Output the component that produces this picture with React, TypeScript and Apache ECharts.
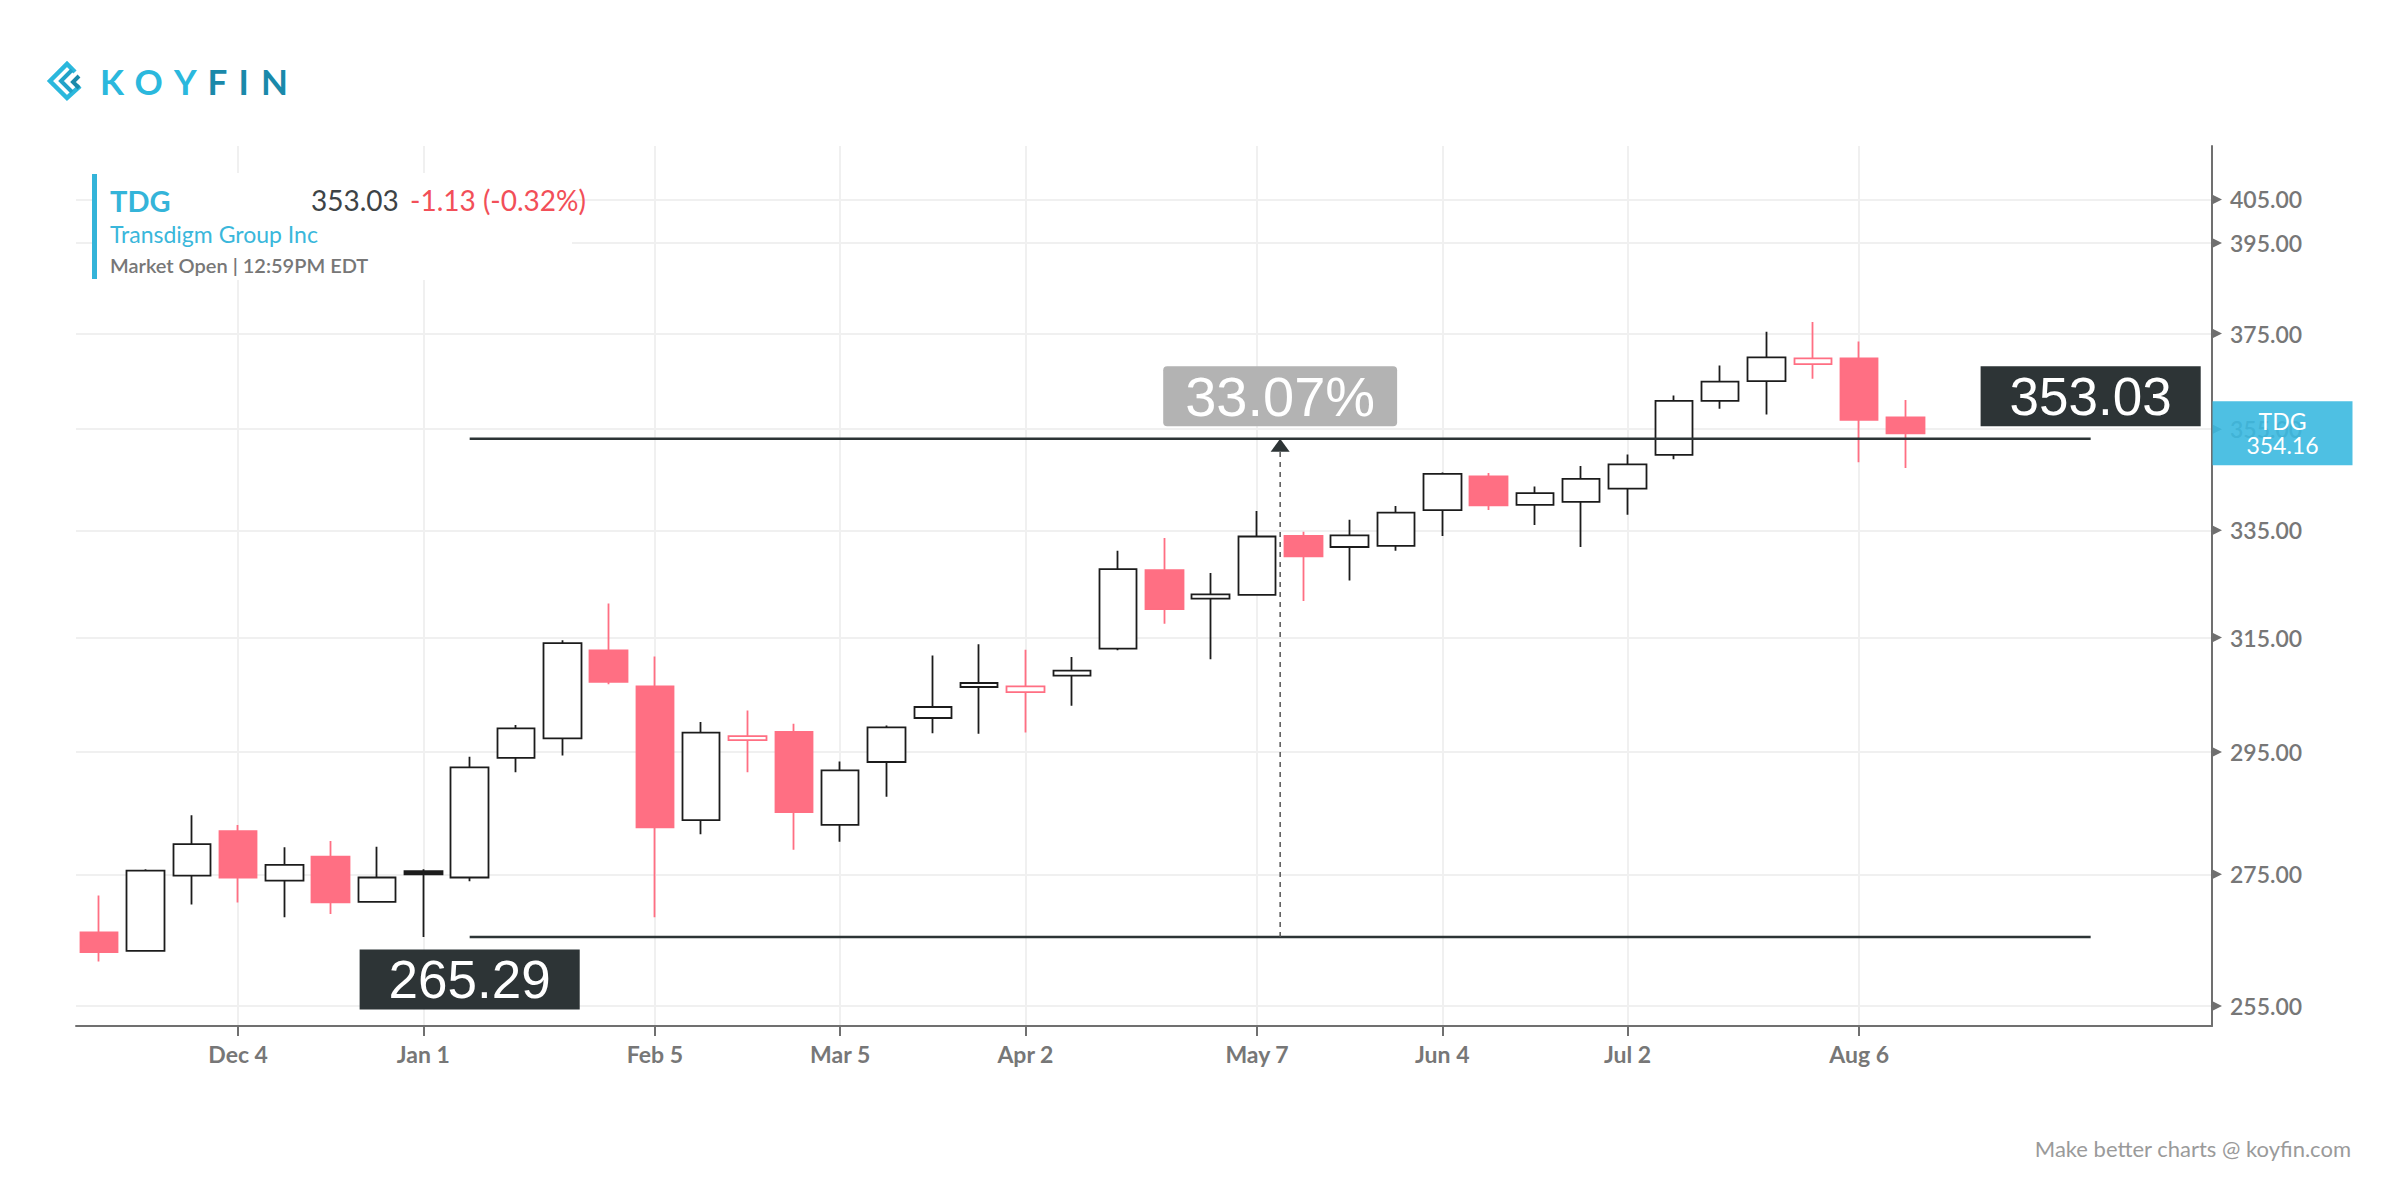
import React, { useEffect, useRef } from "react";
import * as echarts from "echarts";

// ---------- data (weekly candles, TDG) ----------
const weeks = [
  "2017-11-13", "2017-11-20", "2017-11-27", "2017-12-04", "2017-12-11", "2017-12-18", "2017-12-25",
  "2018-01-01", "2018-01-08", "2018-01-15", "2018-01-22", "2018-01-29", "2018-02-05", "2018-02-12",
  "2018-02-19", "2018-02-26", "2018-03-05", "2018-03-12", "2018-03-19", "2018-03-26", "2018-04-02",
  "2018-04-09", "2018-04-16", "2018-04-23", "2018-04-30", "2018-05-07", "2018-05-14", "2018-05-21",
  "2018-05-28", "2018-06-04", "2018-06-11", "2018-06-18", "2018-06-25", "2018-07-02", "2018-07-09",
  "2018-07-16", "2018-07-23", "2018-07-30", "2018-08-06", "2018-08-13",
];
const opens = [
  266.0, 263.2, 274.8, 281.9, 274.0, 277.8, 270.7, 275.5, 274.5, 294.0,
  297.3, 312.7, 306.3, 283.7, 297.0, 298.4, 282.9, 293.3, 300.8, 306.2,
  305.3, 308.2, 313.0, 327.4, 322.1, 322.8, 333.9, 331.8, 332.0, 338.9,
  345.5, 339.9, 340.5, 343.1, 349.8, 360.8, 364.9, 368.5, 369.7, 357.4,
];
const closes = [
  263.0, 275.6, 279.8, 274.5, 276.5, 270.6, 274.5, 275.0, 292.4, 299.0,
  314.0, 307.1, 282.5, 298.3, 297.7, 285.0, 291.9, 299.2, 302.7, 306.9,
  306.3, 309.1, 327.6, 320.2, 322.9, 333.8, 330.0, 334.0, 338.4, 346.0,
  339.8, 342.2, 345.0, 347.9, 360.8, 364.8, 369.9, 369.7, 356.9, 354.16,
];
const lows = [
  261.6, 263.1, 270.3, 270.6, 268.3, 268.8, 270.6, 265.29, 273.9, 291.6,
  294.4, 306.7, 268.3, 281.4, 291.6, 278.9, 280.2, 287.5, 298.2, 298.1,
  298.3, 302.9, 312.7, 317.5, 311.1, 322.8, 321.7, 325.5, 331.1, 333.9,
  338.9, 336.0, 331.8, 338.0, 348.9, 359.2, 358.0, 365.4, 348.3, 347.2,
];
const highs = [
  271.7, 275.8, 284.5, 282.9, 279.3, 280.3, 279.4, 275.8, 294.2, 299.6,
  314.5, 321.2, 311.6, 300.1, 302.1, 299.8, 293.4, 299.5, 311.8, 313.8,
  312.8, 311.5, 331.1, 333.5, 326.9, 338.7, 334.7, 337.0, 339.7, 346.3,
  346.2, 343.5, 347.6, 349.9, 361.9, 368.2, 375.4, 377.5, 373.3, 361.0,
];

const xTickIdx = [3, 7, 12, 16, 20, 25, 29, 33, 38];
const xTickText = ["Dec 4", "Jan 1", "Feb 5", "Mar 5", "Apr 2", "May 7", "Jun 4", "Jul 2", "Aug 6"];
const yTicks = [255, 275, 295, 315, 335, 355, 375, 395, 405];

// measurement annotation (start / end index on the week axis, start / end price)
const measureIdx = [8, 43];
const measureVals = [265.29, 353.03];

const ticker = "TDG";
const companyName = "Transdigm Group Inc";
const lastPrice = "353.03";
const changeText = "-1.13 (-0.32%)";
const marketStatus = "Market Open | 12:59PM EDT";

// ---------- styles ----------
const RED = "#ff6f83";
const BLACK = "#1c1c1c";
const FONT = "Lato, 'Noto Sans', sans-serif";
const X_MIN = -0.5;
const X_MAX = 45.62;
const Y_MIN = 252.09;
const Y_MAX = 417.6;

function candleStyle(i: number) {
  const o = opens[i];
  const c = closes[i];
  const prev = i > 0 ? closes[i - 1] : o;
  const col = c < prev ? RED : BLACK;
  const fill = c > o ? "#ffffff" : col;
  return { color: fill, color0: fill, borderColor: col, borderColor0: col, borderWidth: 1.8 };
}

export default function App() {
  const ref = useRef<HTMLDivElement>(null);

  useEffect(() => {
    if (!ref.current) return;
    const chart = echarts.init(ref.current, null, { renderer: "svg" });

    const candleData = weeks.map((_, i) => ({
      value: [i, opens[i], closes[i], lows[i], highs[i]],
      itemStyle: candleStyle(i),
    }));
    const midIdx = (measureIdx[0] + measureIdx[1]) / 2;
    const pct = ((measureVals[1] / measureVals[0] - 1) * 100).toFixed(2) + "%";
    const lastClose = closes[closes.length - 1];

    const darkLabel = {
      show: true,
      color: "#ffffff",
      fontFamily: "'Liberation Sans', Arial, sans-serif",
      fontSize: 53,
      lineHeight: 60,
      padding: [0, 29],
      backgroundColor: "#2d3436",
      distance: 12,
    };

    const option: any = {
      animation: false,
      backgroundColor: "#ffffff",
      grid: { left: 76, right: 188, top: 146, bottom: 174 },
      xAxis: {
        type: "value",
        min: X_MIN,
        max: X_MAX,
        axisLine: { show: true, onZero: false, lineStyle: { color: "#707070", width: 2 } },
        axisTick: { show: true, customValues: xTickIdx, length: 10, lineStyle: { color: "#707070", width: 2 } },
        axisLabel: {
          customValues: xTickIdx,
          formatter: (v: number) => xTickText[xTickIdx.indexOf(Math.round(v))] || "",
          color: "#777777",
          fontFamily: FONT,
          fontSize: 23,
          fontWeight: "bold",
          margin: 16,
        },
        splitLine: { show: true, lineStyle: { color: "#f0f0f0", width: 2 } },
      },
      yAxis: {
        type: "log",
        logBase: 10,
        position: "right",
        min: Y_MIN,
        max: Y_MAX,
        axisLine: { show: true, onZero: false, lineStyle: { color: "#707070", width: 2 } },
        axisTick: { show: false, customValues: yTicks },
        axisLabel: {
          customValues: yTicks,
          formatter: (v: number) => Number(v).toFixed(2),
          color: "#777777",
          fontFamily: FONT,
          fontSize: 23,
          fontWeight: 600,
          margin: 18,
        },
        splitLine: { show: true, lineStyle: { color: "#f0f0f0", width: 2 } },
      },
      series: [
        {
          type: "candlestick",
          data: candleData,
          encode: { x: 0, y: [1, 2, 3, 4] },
          barWidth: 38,
          z: 2,
          silent: true,
        },
        {
          type: "line",
          data: [[measureIdx[0], measureVals[0]], [measureIdx[1], measureVals[0]]],
          symbol: "none",
          lineStyle: { color: "#2d3436", width: 2.5 },
          z: 4,
          silent: true,
        },
        {
          type: "line",
          data: [[measureIdx[0], measureVals[1]], [measureIdx[1], measureVals[1]]],
          symbol: "none",
          lineStyle: { color: "#2d3436", width: 2.5 },
          z: 4,
          silent: true,
        },
        {
          type: "line",
          data: [[midIdx, measureVals[0]], [midIdx, measureVals[1]]],
          symbol: "none",
          lineStyle: { color: "#555555", width: 1.5, type: [5, 5] },
          z: 4,
          silent: true,
        },
        {
          type: "scatter",
          data: [[midIdx, measureVals[1]]],
          symbol: "triangle",
          symbolSize: [19, 13],
          symbolOffset: [0, 6.5],
          itemStyle: { color: "#2d3436", opacity: 1 },
          z: 5,
          silent: true,
        },
        {
          type: "scatter",
          symbolSize: 1,
          itemStyle: { color: "rgba(0,0,0,0)", opacity: 1 },
          z: 6,
          silent: true,
          data: [
            {
              value: [measureIdx[0], measureVals[0]],
              label: { ...darkLabel, position: "bottom", formatter: measureVals[0].toFixed(2) },
            },
            {
              value: [measureIdx[1], measureVals[1]],
              label: { ...darkLabel, position: "top", formatter: measureVals[1].toFixed(2) },
            },
            {
              value: [midIdx, measureVals[1]],
              label: {
                ...darkLabel,
                position: "top",
                formatter: pct,
                fontSize: 56,
                padding: [0, 22],
                backgroundColor: "#b3b3b3",
                borderRadius: 4,
              },
            },
          ],
        },
        {
          type: "scatter",
          data: yTicks.map((v) => [X_MAX, v]),
          symbol: "triangle",
          symbolSize: 10,
          symbolRotate: -90,
          symbolOffset: [5, 0],
          itemStyle: { color: "#707070", opacity: 1 },
          clip: false,
          z: 5,
          silent: true,
        },
        {
          type: "scatter",
          data: [[X_MAX, lastClose]],
          symbolSize: 1,
          itemStyle: { color: "rgba(0,0,0,0)", opacity: 1 },
          clip: false,
          z: 20,
          silent: true,
          label: {
            show: true,
            position: "right",
            distance: 0,
            formatter: `{a|${ticker}}\n{a|${lastClose.toFixed(2)}}`,
            backgroundColor: "rgba(59,185,224,0.9)",
            padding: [8, 20],
            rich: {
              a: {
                width: 100,
                align: "center",
                color: "#ffffff",
                fontFamily: FONT,
                fontSize: 23,
                lineHeight: 24,
              },
            },
          },
        },
      ],
      graphic: [
        // logo icon
        { type: "polyline", z: 100, shape: { points: [[75, 72], [67, 64], [50, 81], [67, 98], [80, 86]] }, style: { stroke: "#2bb8dd", lineWidth: 4.5, fill: null } },
        { type: "polyline", z: 100, shape: { points: [[72, 70], [61, 81], [72, 92]] }, style: { stroke: "#22a2c8", lineWidth: 4, fill: null } },
        { type: "polyline", z: 100, shape: { points: [[79, 76], [73, 82], [79, 88]] }, style: { stroke: "#1a89aa", lineWidth: 4, fill: null } },
        // logo text
        { type: "text", z: 100, x: 100, y: 81, style: { text: "K", fill: "#2bb8dd", font: `bold 35px ${FONT}`, verticalAlign: "middle" } },
        { type: "text", z: 100, x: 134.5, y: 81, style: { text: "O", fill: "#2bb8dd", font: `bold 35px ${FONT}`, verticalAlign: "middle" } },
        { type: "text", z: 100, x: 174, y: 81, style: { text: "Y", fill: "#2bb8dd", font: `bold 35px ${FONT}`, verticalAlign: "middle" } },
        { type: "text", z: 100, x: 207.5, y: 81, style: { text: "F", fill: "#1a89aa", font: `bold 35px ${FONT}`, verticalAlign: "middle" } },
        { type: "text", z: 100, x: 238.5, y: 81, style: { text: "I", fill: "#1a89aa", font: `bold 35px ${FONT}`, verticalAlign: "middle" } },
        { type: "text", z: 100, x: 261, y: 81, style: { text: "N", fill: "#1a89aa", font: `bold 35px ${FONT}`, verticalAlign: "middle" } },
        // header box
        { type: "rect", z: 100, shape: { x: 92, y: 173, width: 480, height: 107 }, style: { fill: "#ffffff" } },
        { type: "rect", z: 101, shape: { x: 92, y: 174, width: 5, height: 105 }, style: { fill: "#34b4d9" } },
        { type: "text", z: 101, x: 110, y: 200, style: { text: ticker, fill: "#34b4d9", font: `bold 29px ${FONT}`, verticalAlign: "middle" } },
        { type: "text", z: 101, x: 311, y: 200, style: { text: lastPrice, fill: "#3d4346", font: `28px ${FONT}`, verticalAlign: "middle" } },
        { type: "text", z: 101, x: 410, y: 200, style: { text: changeText, fill: "#f24f58", font: `28px ${FONT}`, verticalAlign: "middle" } },
        { type: "text", z: 101, x: 110, y: 234, style: { text: companyName, fill: "#3ab7db", font: `23px ${FONT}`, verticalAlign: "middle" } },
        { type: "text", z: 101, x: 110, y: 265, style: { text: marketStatus, fill: "#777777", font: `600 20px ${FONT}`, verticalAlign: "middle" } },
        // footer
        { type: "text", z: 100, x: 2351, y: 1148, style: { text: "Make better charts @ koyfin.com", fill: "#9a9a9a", font: `22px ${FONT}`, align: "right", verticalAlign: "middle" } },
      ],
    };

    chart.setOption(option);
    return () => chart.dispose();
  }, []);

  return (
    <div
      ref={ref}
      style={{ position: "fixed", left: 0, top: 0, width: "2400px", height: "1200px", background: "#fff" }}
    />
  );
}
